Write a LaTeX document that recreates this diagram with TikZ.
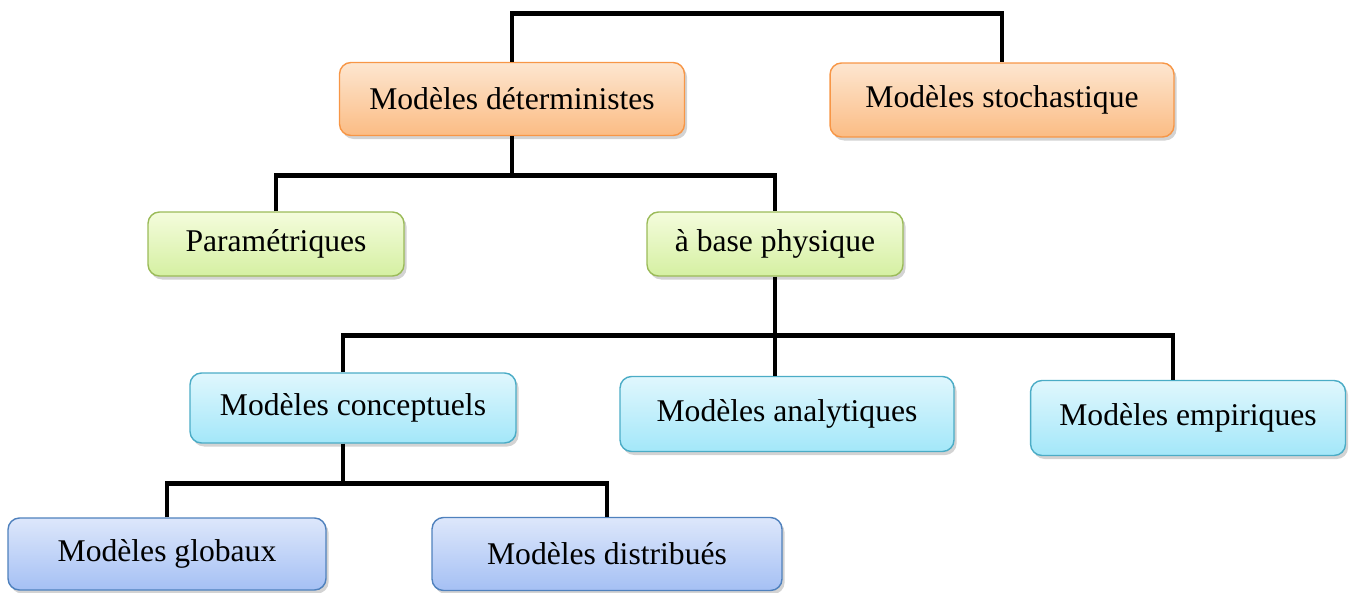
\documentclass[tikz,border=0pt]{standalone}
\usepackage{fontspec}
\setmainfont{Liberation Serif}
\usetikzlibrary{shadows}
\definecolor{orangetop}{HTML}{FDE6D0}
\definecolor{orangebot}{HTML}{FBBC84}
\definecolor{orangeline}{HTML}{F79646}
\definecolor{greentop}{HTML}{F4FCDC}
\definecolor{greenbot}{HTML}{D5F0A2}
\definecolor{greenline}{HTML}{9BBB59}
\definecolor{cyantop}{HTML}{E0F7FD}
\definecolor{cyanbot}{HTML}{A3E7F9}
\definecolor{cyanline}{HTML}{4BACC6}
\definecolor{bluetop}{HTML}{DDE7FB}
\definecolor{bluebot}{HTML}{A5C0F4}
\definecolor{blueline}{HTML}{4F81BD}
\tikzset{
	box/.style={draw, rounded corners=6.5pt, line width=0.8pt, inner sep=0pt,
		font=\fontsize{18}{21}\selectfont,
		drop shadow={shadow xshift=1.5pt, shadow yshift=-2pt, opacity=0.35}},
	orangebox/.style={box, draw=orangeline, top color=orangetop, bottom color=orangebot},
	greenbox/.style={box, draw=greenline, top color=greentop, bottom color=greenbot},
	cyanbox/.style={box, draw=cyanline, top color=cyantop, bottom color=cyanbot},
	bluebox/.style={box, draw=blueline, top color=bluetop, bottom color=bluebot},
	conn/.style={line width=2.8pt}
}
\begin{document}
\begin{tikzpicture}[x=0.02cm,y=-0.02cm]
	\useasboundingbox (0,0) rectangle (1351,592);
	% niveau 1
	\node[orangebox, minimum width=6.9cm, minimum height=1.46cm] (det) at (512,99) {Modèles déterministes};
	\node[orangebox, minimum width=6.88cm, minimum height=1.48cm] (stoch) at (1002,100) {Modèles stochastique};
	% niveau 2
	\node[greenbox, minimum width=5.12cm, minimum height=1.28cm] (param) at (276,244) {Paramétriques};
	\node[greenbox, minimum width=5.12cm, minimum height=1.28cm] (phys) at (775,244) {à base physique};
	% niveau 3
	\node[cyanbox, minimum width=6.52cm, minimum height=1.4cm] (concept) at (353,408) {Modèles conceptuels};
	\node[cyanbox, minimum width=6.68cm, minimum height=1.5cm] (analyt) at (787,414) {Modèles analytiques};
	\node[cyanbox, minimum width=6.3cm, minimum height=1.5cm] (empir) at (1188,418) {Modèles empiriques};
	% niveau 4
	\node[bluebox, minimum width=6.36cm, minimum height=1.44cm] (glob) at (167,554) {Modèles globaux};
	\node[bluebox, minimum width=7cm, minimum height=1.46cm] (distr) at (607,554) {Modèles distribués};
	
	\draw[conn] (det.north) -- ++(0,-48) -| (stoch.north);
	\draw[conn] (det.south) -- ++(0,39) coordinate (b1);
	\draw[conn] (param.north) |- (b1) -| (phys.north);
	\draw[conn] (phys.south) -- ++(0,59) coordinate (b2);
	\draw[conn] ([xshift=-0.2cm]concept.north) |- (b2) -| ([xshift=-0.3cm]empir.north);
	\draw[conn] (b2) -- (b2 |- analyt.north);
	\draw[conn] ([xshift=-0.2cm]concept.south) -- ++(0,40) coordinate (b3);
	\draw[conn] (glob.north) |- (b3) -| (distr.north);
\end{tikzpicture}
\end{document}
